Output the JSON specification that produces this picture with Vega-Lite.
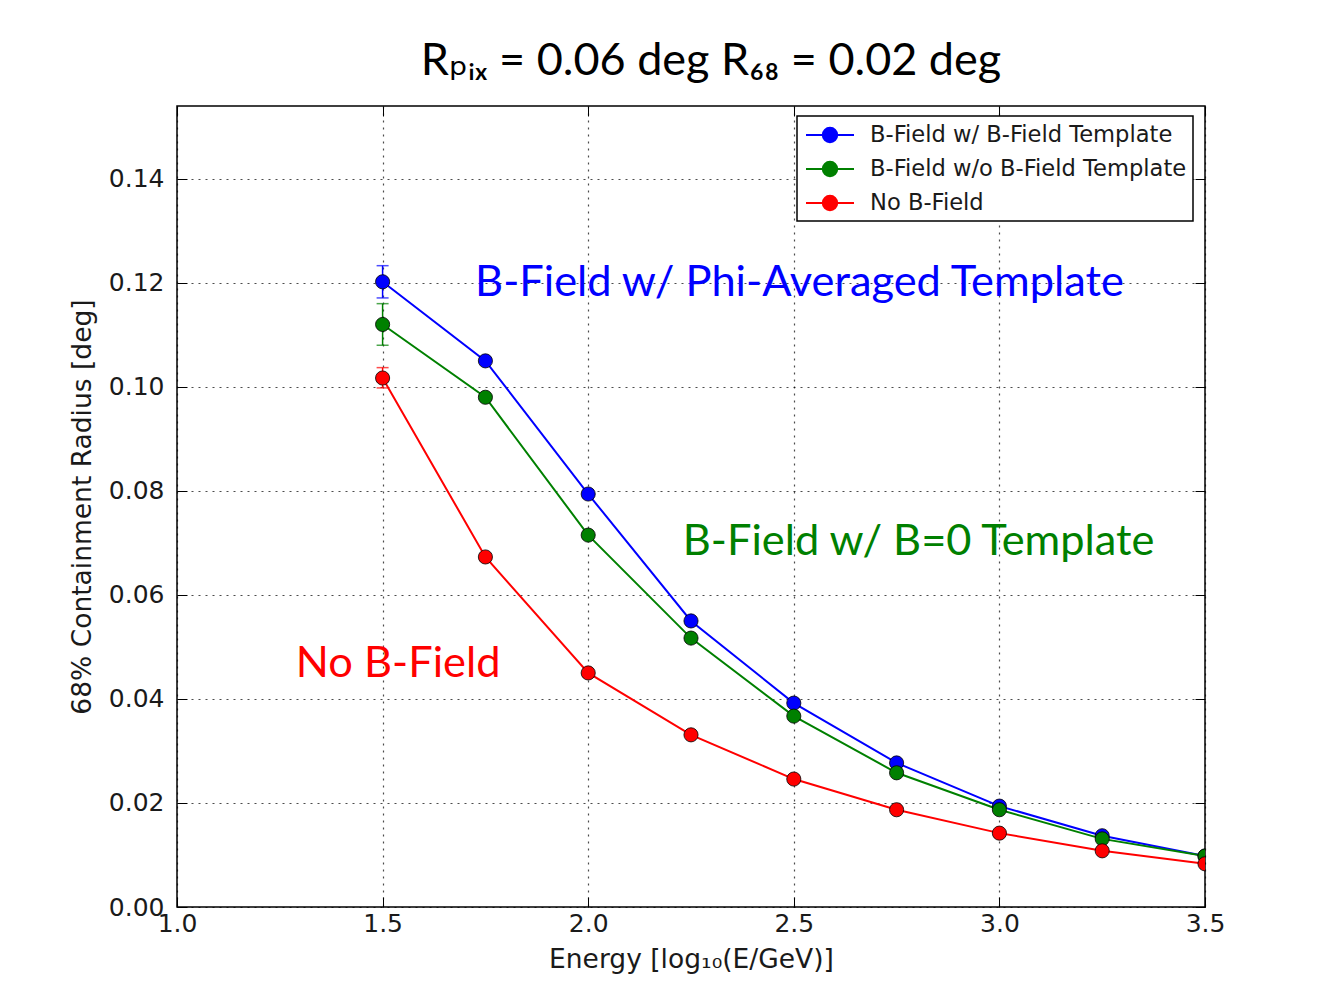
{
  "$schema": "https://vega.github.io/schema/vega-lite/v6.json",
  "autosize": "none",
  "width": 1028,
  "height": 801,
  "padding": {"left": 177, "top": 106, "right": 117, "bottom": 93},
  "background": "#ffffff",
  "title": {
    "text": "Rₚᵢₓ = 0.06 deg R₆₈ = 0.02 deg",
    "font": "Lato, DejaVu Sans",
    "fontSize": 45,
    "fontWeight": "normal",
    "color": "#000000",
    "anchor": "middle",
    "dx": 20,
    "offset": 22
  },
  "config": {
    "view": {"stroke": "#000000", "strokeWidth": 1.5},
    "axis": {
      "labelFont": "DejaVu Sans",
      "labelFontSize": 25,
      "labelColor": "#1a1a1a",
      "titleFont": "DejaVu Sans",
      "titleFontSize": 26.5,
      "titleFontWeight": "normal",
      "titleColor": "#1a1a1a",
      "domain": false,
      "tickColor": "#000000",
      "tickWidth": 1,
      "tickSize": -10,
      "labelOverlap": false,
      "labelFlush": false,
      "labelBound": false,
      "gridColor": "#000000",
      "gridDash": [2, 5],
      "gridWidth": 1.2,
      "gridOpacity": 0.7
    }
  },
  "datasets": {
    "series": [
      {"E": 1.5, "r": 0.1202, "s": "B-Field w/ B-Field Template"},
      {"E": 1.75, "r": 0.105, "s": "B-Field w/ B-Field Template"},
      {"E": 2.0, "r": 0.0794, "s": "B-Field w/ B-Field Template"},
      {"E": 2.25, "r": 0.055, "s": "B-Field w/ B-Field Template"},
      {"E": 2.5, "r": 0.0392, "s": "B-Field w/ B-Field Template"},
      {"E": 2.75, "r": 0.0277, "s": "B-Field w/ B-Field Template"},
      {"E": 3.0, "r": 0.0194, "s": "B-Field w/ B-Field Template"},
      {"E": 3.25, "r": 0.0137, "s": "B-Field w/ B-Field Template"},
      {"E": 3.5, "r": 0.0098, "s": "B-Field w/ B-Field Template"},
      {"E": 1.5, "r": 0.112, "s": "B-Field w/o B-Field Template"},
      {"E": 1.75, "r": 0.098, "s": "B-Field w/o B-Field Template"},
      {"E": 2.0, "r": 0.0715, "s": "B-Field w/o B-Field Template"},
      {"E": 2.25, "r": 0.0517, "s": "B-Field w/o B-Field Template"},
      {"E": 2.5, "r": 0.0367, "s": "B-Field w/o B-Field Template"},
      {"E": 2.75, "r": 0.0258, "s": "B-Field w/o B-Field Template"},
      {"E": 3.0, "r": 0.0187, "s": "B-Field w/o B-Field Template"},
      {"E": 3.25, "r": 0.0131, "s": "B-Field w/o B-Field Template"},
      {"E": 3.5, "r": 0.0098, "s": "B-Field w/o B-Field Template"},
      {"E": 1.5, "r": 0.1017, "s": "No B-Field"},
      {"E": 1.75, "r": 0.0673, "s": "No B-Field"},
      {"E": 2.0, "r": 0.045, "s": "No B-Field"},
      {"E": 2.25, "r": 0.0331, "s": "No B-Field"},
      {"E": 2.5, "r": 0.0246, "s": "No B-Field"},
      {"E": 2.75, "r": 0.0187, "s": "No B-Field"},
      {"E": 3.0, "r": 0.0142, "s": "No B-Field"},
      {"E": 3.25, "r": 0.0108, "s": "No B-Field"},
      {"E": 3.5, "r": 0.0083, "s": "No B-Field"}
    ],
    "errors": [
      {"E": 1.5, "lo": 0.1171, "hi": 0.1233, "s": "B-Field w/ B-Field Template"},
      {"E": 1.5, "lo": 0.1080, "hi": 0.1160, "s": "B-Field w/o B-Field Template"},
      {"E": 1.5, "lo": 0.0998, "hi": 0.1037, "s": "No B-Field"}
    ],
    "notes": [
      {"E": 1.725, "r": 0.1175, "label": "B-Field w/ Phi-Averaged Template", "s": "B-Field w/ B-Field Template"},
      {"E": 2.23, "r": 0.0677, "label": "B-Field w/ B=0 Template", "s": "B-Field w/o B-Field Template"},
      {"E": 1.289, "r": 0.0442, "label": "No B-Field", "s": "No B-Field"}
    ]
  },
  "encoding": {
    "color": {
      "field": "s",
      "type": "nominal",
      "scale": {
        "domain": ["B-Field w/ B-Field Template", "B-Field w/o B-Field Template", "No B-Field"],
        "range": ["#0000ff", "#008000", "#ff0000"]
      },
      "legend": {
        "orient": "none",
        "legendX": 620,
        "legendY": 10,
        "title": null,
        "padding": 6,
        "fillColor": "#ffffff",
        "strokeColor": "#000000",
        "cornerRadius": 0,
        "symbolType": "M-2,0H2M0.6,0A0.6,0.6,0,1,1,-0.6,0A0.6,0.6,0,1,1,0.6,0",
        "symbolSize": 576,
        "symbolStrokeWidth": 2,
        "symbolOffset": 14,
        "labelOffset": 27,
        "labelLimit": 600,
        "rowPadding": 9,
        "labelFont": "DejaVu Sans",
        "labelFontSize": 22.6,
        "labelColor": "#1a1a1a",
        "encode": {
          "legend": {"update": {"strokeWidth": {"value": 1.5}}},
          "symbols": {
            "update": {
              "fill": {"scale": "color", "field": "value"},
              "stroke": {"scale": "color", "field": "value"},
              "opacity": {"value": 1}
            }
          }
        }
      }
    }
  },
  "layer": [
    {
      "data": {"name": "errors"},
      "mark": {"type": "errorbar", "thickness": 1.5, "ticks": {"size": 12, "thickness": 1.5}},
      "encoding": {
        "x": {"field": "E", "type": "quantitative", "scale": {"domain": [1.0, 3.5], "nice": false}, "axis": null},
        "y": {"field": "lo", "type": "quantitative", "scale": {"domain": [0, 0.154], "nice": false}, "axis": null},
        "y2": {"field": "hi"}
      }
    },
    {
      "data": {"name": "series"},
      "mark": {"type": "line", "strokeWidth": 2, "clip": true},
      "encoding": {
        "x": {
          "field": "E", "type": "quantitative",
          "scale": {"domain": [1.0, 3.5], "nice": false},
          "axis": {"orient": "top", "values": [1.0, 1.5, 2.0, 2.5, 3.0, 3.5], "labels": false, "title": null, "grid": false}
        },
        "y": {
          "field": "r", "type": "quantitative",
          "scale": {"domain": [0, 0.154], "nice": false},
          "axis": {"orient": "right", "values": [0, 0.02, 0.04, 0.06, 0.08, 0.1, 0.12, 0.14], "labels": false, "title": null, "grid": false}
        }
      }
    },
    {
      "data": {"name": "series"},
      "mark": {"type": "point", "filled": true, "size": 200, "stroke": "#000000", "strokeWidth": 1, "strokeOpacity": 0.8, "opacity": 1, "clip": true},
      "encoding": {
        "x": {
          "field": "E", "type": "quantitative",
          "scale": {"domain": [1.0, 3.5], "nice": false},
          "axis": {"orient": "bottom", "grid": true, "values": [1.0, 1.5, 2.0, 2.5, 3.0, 3.5], "format": ".1f", "labelPadding": 14, "title": "Energy [log₁₀(E/GeV)]", "titlePadding": 10}
        },
        "y": {
          "field": "r", "type": "quantitative",
          "scale": {"domain": [0, 0.154], "nice": false},
          "axis": {"orient": "left", "grid": true, "values": [0, 0.02, 0.04, 0.06, 0.08, 0.1, 0.12, 0.14], "format": ".2f", "labelPadding": 23, "title": "68% Containment Radius [deg]", "titlePadding": 12}
        }
      }
    },
    {
      "data": {"name": "notes"},
      "mark": {"type": "text", "font": "Lato", "fontSize": 43.4, "align": "left", "baseline": "alphabetic"},
      "encoding": {
        "x": {"field": "E", "type": "quantitative", "axis": null},
        "y": {"field": "r", "type": "quantitative", "axis": null},
        "text": {"field": "label"}
      }
    }
  ],
  "resolve": {"axis": {"x": "independent", "y": "independent"}}
}
